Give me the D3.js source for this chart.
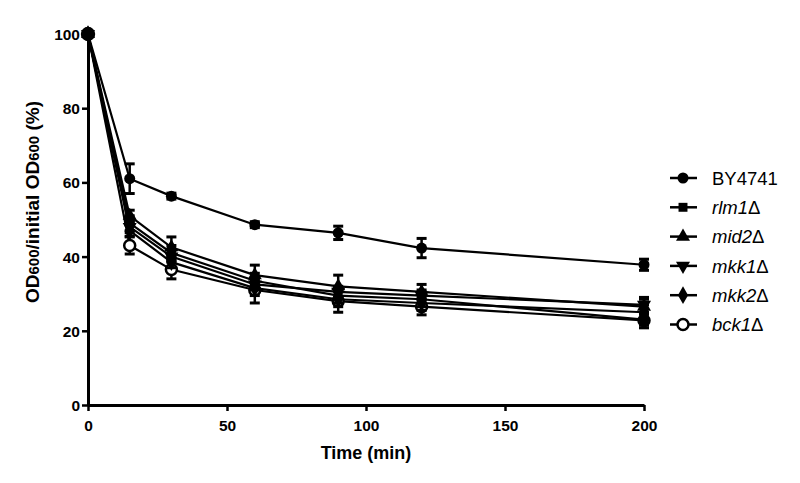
<!DOCTYPE html>
<html><head><meta charset="utf-8">
<script src="https://cdn.jsdelivr.net/npm/d3@7"></script>
<style>body{margin:0;background:#fff}</style>
</head><body>
<svg id="c" width="800" height="483"></svg>
<script>
const times = [0, 15, 30, 60, 90, 120, 200];
const names = ["BY4741", "rlm1", "mid2", "mkk1", "mkk2", "bck1"];
const by4741 = [100, 61, 56.3, 48.6, 46.4, 42.3, 37.8];
const by4741Err = [0, 4, 0.8, 0.8, 1.8, 2.6, 1.5];
const rlm1 = [100, 49, 41, 33.5, 29.5, 28.5, 23];
const rlm1Err = [0, 2, 2, 2, 2, 2, 1.5];
const mid2 = [100, 51, 42.5, 35, 32, 30.5, 26.5];
const mid2Err = [0, 1.5, 2.8, 2.7, 3, 2, 2];
const mkk1 = [100, 48, 40, 32.5, 30.5, 29.5, 27];
const mkk1Err = [0, 1.5, 1.5, 1.5, 1.5, 1.5, 2];
const mkk2 = [100, 47, 38.5, 31.5, 28.5, 27.5, 25];
const mkk2Err = [0, 1.5, 1.5, 2, 2, 2, 2];
const bck1 = [100, 43, 36.5, 31, 28, 26.5, 22.8];
const bck1Err = [0, 2.3, 2.5, 3.5, 3, 2.2, 2];
const xTicks = [0, 50, 100, 150, 200];
const yTicks = [0, 20, 40, 60, 80, 100];

const series = [
  {name: names[0], vals: by4741, err: by4741Err, sym: d3.symbolCircle, italic: false, open: false},
  {name: names[1], vals: rlm1, err: rlm1Err, sym: d3.symbolSquare, italic: true, open: false},
  {name: names[2], vals: mid2, err: mid2Err, sym: d3.symbolTriangle, italic: true, open: false},
  {name: names[3], vals: mkk1, err: mkk1Err, sym: "down", italic: true, open: false},
  {name: names[4], vals: mkk2, err: mkk2Err, sym: d3.symbolDiamond, italic: true, open: false},
  {name: names[5], vals: bck1, err: bck1Err, sym: d3.symbolCircle, italic: true, open: true}
];

const svg = d3.select("#c");
const x = d3.scaleLinear().domain([0, 200]).range([88, 644]);
const y = d3.scaleLinear().domain([0, 100]).range([405, 34]);
const font = "Arial, 'Liberation Sans', sans-serif";

// axes
const ax = svg.append("g").attr("transform", "translate(0,405)")
  .call(d3.axisBottom(x).tickValues(xTicks).tickSize(6).tickSizeOuter(0));
const ay = svg.append("g").attr("transform", "translate(88,0)")
  .call(d3.axisLeft(y).tickValues(yTicks).tickSize(6).tickSizeOuter(0));
[ax, ay].forEach(g => {
  g.select(".domain").attr("stroke", "#000").attr("stroke-width", 3);
  g.selectAll(".tick line").attr("stroke", "#000").attr("stroke-width", 2.5);
  g.selectAll(".tick text").attr("font-family", font).attr("font-weight", "bold")
    .attr("font-size", 15.5).attr("fill", "#000");
});
ax.selectAll(".tick text").attr("dy", "1.1em");
ay.selectAll(".tick text").attr("dy", "0.36em").attr("x", -8);

svg.append("text").attr("x", 366).attr("y", 459).attr("text-anchor", "middle")
  .attr("font-family", font).attr("font-weight", "bold").attr("font-size", 18)
  .text("Time (min)");
const yt = svg.append("text").attr("transform", "translate(39,202) rotate(-90)")
  .attr("text-anchor", "middle").attr("font-family", font).attr("font-weight", "bold")
  .attr("font-size", 19);
yt.append("tspan").text("OD");
yt.append("tspan").attr("font-size", 15).text("600");
yt.append("tspan").text("/initial OD");
yt.append("tspan").attr("font-size", 15).text("600");
yt.append("tspan").text(" (%)");

function symPath(s, size) {
  if (s === "down") return d3.symbol(d3.symbolTriangle, size)();
  return d3.symbol(s, size)();
}
function drawMarker(g, s, cx, cy, scale) {
  const size = (s.sym === d3.symbolSquare ? 80 : s.sym === d3.symbolDiamond ? 90 : s.sym === d3.symbolCircle ? 95 : 85) * scale;
  const p = g.append("path").attr("d", symPath(s.sym, size))
    .attr("transform", `translate(${cx},${cy})` + (s.sym === "down" ? " rotate(180)" : ""));
  if (s.open) p.attr("fill", "#fff").attr("stroke", "#000").attr("stroke-width", 2.5);
  else p.attr("fill", "#000");
}

const line = d3.line().x((d, i) => x(times[i])).y(d => y(d));
series.slice().reverse().forEach(s => {
  const g = svg.append("g");
  g.append("path").attr("d", line(s.vals)).attr("fill", "none")
    .attr("stroke", "#000").attr("stroke-width", 2.2);
  s.vals.forEach((v, i) => {
    const e = s.err[i];
    if (e > 0) {
      const cx = x(times[i]);
      g.append("line").attr("x1", cx).attr("x2", cx).attr("y1", y(v - e)).attr("y2", y(v + e))
        .attr("stroke", "#000").attr("stroke-width", 2.5);
      [v - e, v + e].forEach(t => g.append("line").attr("x1", cx - 5).attr("x2", cx + 5)
        .attr("y1", y(t)).attr("y2", y(t)).attr("stroke", "#000").attr("stroke-width", 3));
    }
    drawMarker(g, s, x(times[i]), y(v), (i === 0 && s.name === "BY4741") ? 1.7 : 1);
  });
});

// legend
const lg = svg.append("g");
series.forEach((s, i) => {
  const ly = 178 + i * 29.3;
  lg.append("line").attr("x1", 670).attr("x2", 697).attr("y1", ly).attr("y2", ly)
    .attr("stroke", "#000").attr("stroke-width", 2.5);
  drawMarker(lg, s, 683, ly, 1);
  const t = lg.append("text").attr("x", 712).attr("y", ly).attr("dy", "0.36em")
    .attr("font-family", font).attr("font-size", 18.5).attr("fill", "#000");
  if (s.italic) {
    t.append("tspan").attr("font-style", "italic").text(s.name);
    t.append("tspan").text("Δ");
  } else t.text(s.name);
});
</script>
</body></html>
